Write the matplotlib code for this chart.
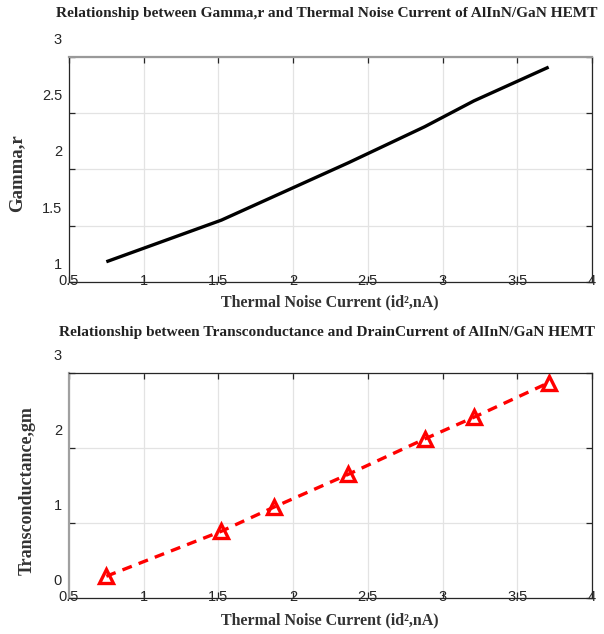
import numpy as np
import matplotlib
matplotlib.use("Agg")
import matplotlib.pyplot as plt
from matplotlib.transforms import ScaledTranslation

# data
noise_current = [0.75, 1.52, 1.87, 2.37, 2.88, 3.21, 3.71]
gamma_r = [1.18, 1.55, 1.76, 2.06, 2.38, 2.61, 2.91]
gm = [0.29, 0.89, 1.21, 1.65, 2.12, 2.41, 2.87]

x_ticks = [0.5, 1, 1.5, 2, 2.5, 3, 3.5, 4]
x_ticklabels = ["0.5", "1", "1.5", "2", "2.5", "3", "3.5", "4"]
top_yticks = [1, 1.5, 2, 2.5, 3]
top_yticklabels = ["1", "1.5", "2", "2.5", "3"]
bot_yticks = [0, 1, 2, 3]
bot_yticklabels = ["0", "1", "2", "3"]

serif = ["Liberation Serif", "DejaVu Serif"]
sans = ["Liberation Sans Narrow", "Liberation Sans", "DejaVu Sans"]

fig = plt.figure(figsize=(6.04, 6.34), dpi=100)
ax1 = fig.add_axes([0.1142, 0.5552, 0.8659, 0.3549])
ax2 = fig.add_axes([0.1142, 0.0568, 0.8659, 0.3549])


def style_axes(ax, yticks, yticklabels, ylim):
    ax.set_xlim(0.5, 4)
    ax.set_ylim(*ylim)
    ax.set_xticks(x_ticks)
    ax.set_xticklabels(x_ticklabels, family=sans, fontsize=10.5, color="#262626")
    ax.set_yticks(yticks)
    ax.set_yticklabels(yticklabels, family=sans, fontsize=10.5, color="#262626")
    ax.grid(True, color="#e3e3e3", linewidth=0.9)
    ax.set_axisbelow(True)
    ax.tick_params(direction="in", top=True, right=True, length=4.5,
                   width=0.9, color="#262626")
    ax.tick_params(axis="y", pad=5)
    ax.tick_params(axis="x", pad=0)
    for sp in ax.spines.values():
        sp.set_linewidth(0.9)
        sp.set_color("#262626")
    # x labels sit on the axis line, y labels are pushed up
    for lab in ax.get_xticklabels():
        lab.set_verticalalignment("center")
        lab.set_transform(lab.get_transform()
                          + ScaledTranslation(0, 0.01, fig.dpi_scale_trans))
    for lab in ax.get_yticklabels():
        lab.set_transform(lab.get_transform()
                          + ScaledTranslation(0, 0.185, fig.dpi_scale_trans))


style_axes(ax1, top_yticks, top_yticklabels, (1, 3))
style_axes(ax2, bot_yticks, bot_yticklabels, (0, 3))
ax1.spines["top"].set_color("#999999")
ax1.spines["top"].set_linewidth(1.6)
ax2.spines["left"].set_color("#a0a0a0")
ax2.spines["left"].set_linewidth(1.6)

ax1.plot(noise_current, gamma_r, color="black", linewidth=2.4,
         solid_capstyle="butt")
ax2.plot(noise_current, gm, color="red", linestyle=(0, (3, 2.2)),
         linewidth=2.4, marker="^", markersize=10, markerfacecolor="none",
         markeredgecolor="red", markeredgewidth=2.4)

fig.text(0.5414, 1 - 14 / 634,
         "Relationship between Gamma,r and Thermal Noise Current of AlInN/GaN HEMT",
         family=serif, weight="bold", fontsize=11.1, ha="center", va="center",
         color="#222222")
fig.text(0.5414, 1 - 333 / 634,
         "Relationship between Transconductance and DrainCurrent of AlInN/GaN HEMT",
         family=serif, weight="bold", fontsize=11.1, ha="center", va="center",
         color="#222222")
fig.text(0.546, 1 - 302 / 634, "Thermal Noise Current (id\u00b2,nA)",
         family=serif, weight="bold", fontsize=11.5, ha="center", va="center",
         color="#333333")
fig.text(0.546, 1 - 620 / 634, "Thermal Noise Current (id\u00b2,nA)",
         family=serif, weight="bold", fontsize=11.5, ha="center", va="center",
         color="#333333")
fig.text(17 / 604, 1 - 173 / 634, "Gamma,r", family=serif,
         weight="bold", fontsize=13.5, rotation=90, ha="center", va="center",
         color="#333333")
fig.text(27 / 604, 1 - 491 / 634, "Transconductance,gm", family=serif,
         weight="bold", fontsize=13, rotation=90, ha="center", va="center",
         color="#333333")

fig.savefig("out.png", dpi=100)
